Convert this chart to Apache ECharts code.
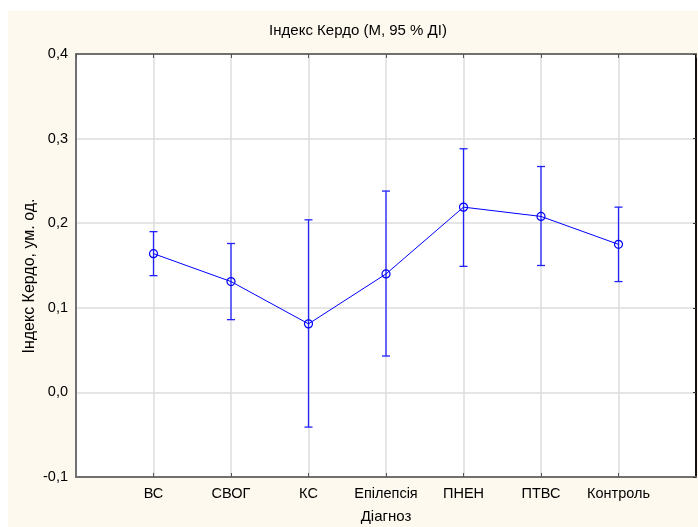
<!DOCTYPE html>
<html>
<head>
<meta charset="utf-8">
<script src="https://cdn.jsdelivr.net/npm/echarts@6/dist/echarts.min.js"></script>
<style>
html,body{margin:0;padding:0;background:#ffffff;}
#chart{width:698px;height:527px;}
</style>
</head>
<body>
<div id="chart"></div>
<script>
const categories = ['ВС', 'СВОГ', 'КС', 'Епілепсія', 'ПНЕН', 'ПТВС', 'Контроль'];
const means = [0.164, 0.131, 0.081, 0.140, 0.219, 0.208, 0.175];
const lower = [0.138, 0.086, -0.041, 0.043, 0.149, 0.150, 0.131];
const upper = [0.190, 0.176, 0.204, 0.238, 0.288, 0.267, 0.219];
const titleText = 'Індекс Кердо (M, 95 % ДІ)';
const yName = 'Індекс Кердо, ум. од.';
const xName = 'Діагноз';

const FONT = 'Liberation Sans, Arial, sans-serif';
const BLUE = '#0000ff';
const chart = echarts.init(document.getElementById('chart'), null, {renderer: 'canvas'});

const lineData = means.map((m, i) => [i + 1, m]);
const errData = means.map((m, i) => [i + 1, lower[i], upper[i]]);

const fmtY = v => v.toFixed(1).replace('.', ',');

chart.setOption({
  animation: false,
  backgroundColor: '#ffffff',
  graphic: [
    {type: 'rect', left: 8, top: 11, z: -100, shape: {width: 690, height: 516}, style: {fill: '#fef9ee'}},
    {type: 'text', z: 10, x: 358, y: 31,
     style: {text: titleText, font: '15px ' + FONT, fill: '#000', textAlign: 'center', textVerticalAlign: 'middle'}},
    {type: 'text', z: 10, x: 30, y: 276, rotation: Math.PI / 2,
     style: {text: yName, font: '16px ' + FONT, fill: '#000', textAlign: 'center', textVerticalAlign: 'middle'}},
    {type: 'text', z: 10, x: 386, y: 517,
     style: {text: xName, font: '15px ' + FONT, fill: '#000', textAlign: 'center', textVerticalAlign: 'middle'}}
  ],
  grid: {left: 76, top: 54, width: 620, height: 423, show: true, backgroundColor: '#ffffff', borderWidth: 0, containLabel: false},
  xAxis: [
    {
      type: 'value', min: 0, max: 8, interval: 1, position: 'bottom',
      axisLine: {show: true, onZero: false, lineStyle: {color: '#707070', width: 2}},
      axisTick: {show: true, inside: true, length: 4, lineStyle: {color: '#555'}},
      axisLabel: {margin: 9, fontFamily: FONT, fontSize: 14.5, color: '#000',
        formatter: v => categories[v - 1] || '', showMinLabel: false, showMaxLabel: false},
      splitLine: {show: true, lineStyle: {color: '#dddddd', width: 1.5}}
    },
    {
      type: 'value', min: 0, max: 8, interval: 1, position: 'top',
      axisLine: {show: true, onZero: false, lineStyle: {color: '#707070', width: 2}},
      axisTick: {show: true, inside: true, length: 4, lineStyle: {color: '#555'}},
      axisLabel: {show: false}, splitLine: {show: false}
    }
  ],
  yAxis: [
    {
      type: 'value', min: -0.1, max: 0.4, interval: 0.1, position: 'left',
      axisLine: {show: true, onZero: false, lineStyle: {color: '#707070', width: 2}},
      axisTick: {show: false},
      axisLabel: {margin: 8, fontFamily: FONT, fontSize: 14.5, color: '#000', formatter: fmtY},
      splitLine: {show: true, lineStyle: {color: '#dddddd', width: 1.5}}
    },
    {
      type: 'value', min: -0.1, max: 0.4, interval: 0.1, position: 'right',
      axisLine: {show: true, onZero: false, lineStyle: {color: '#111', width: 2}},
      axisTick: {show: true, inside: true, length: 3, lineStyle: {color: '#333'}},
      axisLabel: {show: false}, splitLine: {show: false}
    }
  ],
  series: [
    {
      type: 'custom', xAxisIndex: 0, yAxisIndex: 0, data: errData, z: 3,
      renderItem: function (params, api) {
        const x = api.value(0);
        const lo = api.coord([x, api.value(1)]);
        const hi = api.coord([x, api.value(2)]);
        const hw = 4;
        const st = {stroke: '#2222ff', lineWidth: 1.3};
        return {type: 'group', children: [
          {type: 'line', shape: {x1: lo[0], y1: lo[1], x2: hi[0], y2: hi[1]}, style: st},
          {type: 'line', shape: {x1: lo[0] - hw, y1: lo[1], x2: lo[0] + hw, y2: lo[1]}, style: st},
          {type: 'line', shape: {x1: hi[0] - hw, y1: hi[1], x2: hi[0] + hw, y2: hi[1]}, style: st}
        ]};
      }
    },
    {
      type: 'line', xAxisIndex: 0, yAxisIndex: 0, data: lineData, z: 4,
      symbol: 'circle', symbolSize: 8,
      lineStyle: {color: BLUE, width: 1},
      itemStyle: {color: 'rgba(0,0,0,0)', borderColor: BLUE, borderWidth: 1.2}
    }
  ]
});
</script>
</body>
</html>
